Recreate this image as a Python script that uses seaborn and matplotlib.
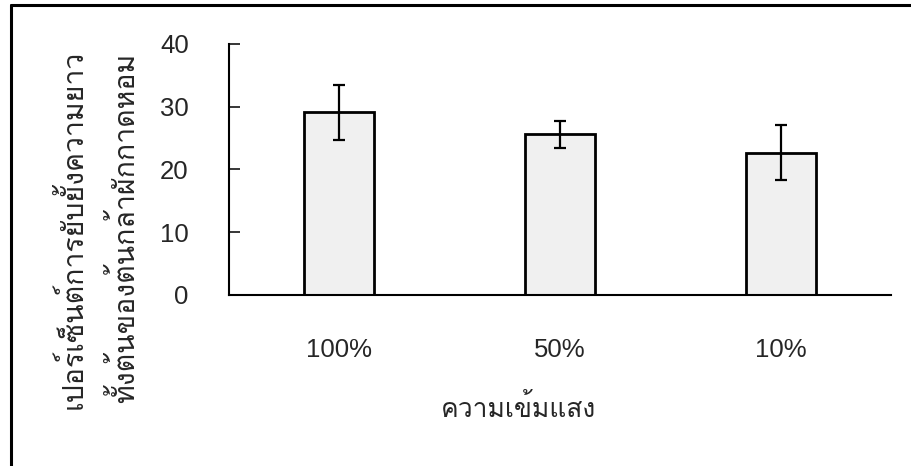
import numpy as np
import seaborn as sns
import matplotlib.pyplot as plt
from matplotlib import font_manager
from matplotlib.ft2font import FT2Font
from matplotlib.lines import Line2D

# data
categories = ["100%", "50%", "10%"]
values = [29.1, 25.6, 22.7]
errors = [4.4, 2.1, 4.4]
y_ticks = [0, 10, 20, 30, 40]
x_title = "ความเข้มแสง"
y_title = ["เปอร์เซ็นต์การยับยั้งความยาว", "ทั้งต้นของต้นกล้าผักกาดหอม"]


# find an installed font that has Thai glyphs
def find_thai_font():
    preferred = []
    others = []
    for fe in font_manager.fontManager.ttflist:
        try:
            cmap = FT2Font(fe.fname).get_charmap()
        except Exception:
            continue
        if 0x0E01 in cmap and 0x0E49 in cmap:
            if "thai" in fe.name.lower() or "loma" in fe.name.lower():
                preferred.append(fe.name)
            else:
                others.append(fe.name)
    found = preferred + others
    return found[0] if found else "DejaVu Sans"


thai_font = find_thai_font()

sns.set_style("white")
plt.rcParams["font.family"] = ["Liberation Sans", thai_font, "DejaVu Sans"]

fig = plt.figure(figsize=(9.12, 4.66), dpi=100)
ax = fig.add_axes([0.2511, 0.367, 0.977 - 0.2511, 0.9056 - 0.367])

sns.barplot(x=categories, y=values, color="#f0f0f0", saturation=1,
            edgecolor="black", linewidth=2.0, width=0.317, ax=ax)
ax.errorbar(np.arange(len(categories)), values, yerr=errors, fmt="none",
            ecolor="black", elinewidth=1.6, capsize=4.3, capthick=1.6)

ax.set_ylim(0, 40)
ax.set_xlim(-0.5, len(categories) - 0.5)
ax.set_yticks(y_ticks)
ax.tick_params(axis="y", direction="in", length=8, width=1.3, pad=29,
               labelsize=18.5, left=True)
ax.tick_params(axis="x", length=0, pad=31, labelsize=18.5)
for s in ["top", "right"]:
    ax.spines[s].set_visible(False)
for s in ["left", "bottom"]:
    ax.spines[s].set_linewidth(1.5)
    ax.spines[s].set_color("black")
ax.set_xlabel("")
ax.set_ylabel("")

# axis titles
fig.text(0.568, 1 - 408 / 466, x_title, fontsize=19, ha="center", va="center")
fig.text(72 / 912, 1 - 229 / 466, y_title[0], fontsize=20.5, rotation=90,
         ha="center", va="center")
fig.text(125 / 912, 1 - 228 / 466, y_title[1], fontsize=20.5, rotation=90,
         ha="center", va="center")

# outer frame (top and left edges only, as cropped in the reference)
fig.add_artist(Line2D([11 / 912, 1], [1 - 5 / 466, 1 - 5 / 466],
                      transform=fig.transFigure, color="black", linewidth=2.2))
fig.add_artist(Line2D([11 / 912, 11 / 912], [0, 1 - 5 / 466],
                      transform=fig.transFigure, color="black", linewidth=2.2))

fig.savefig("out.png", dpi=100)
